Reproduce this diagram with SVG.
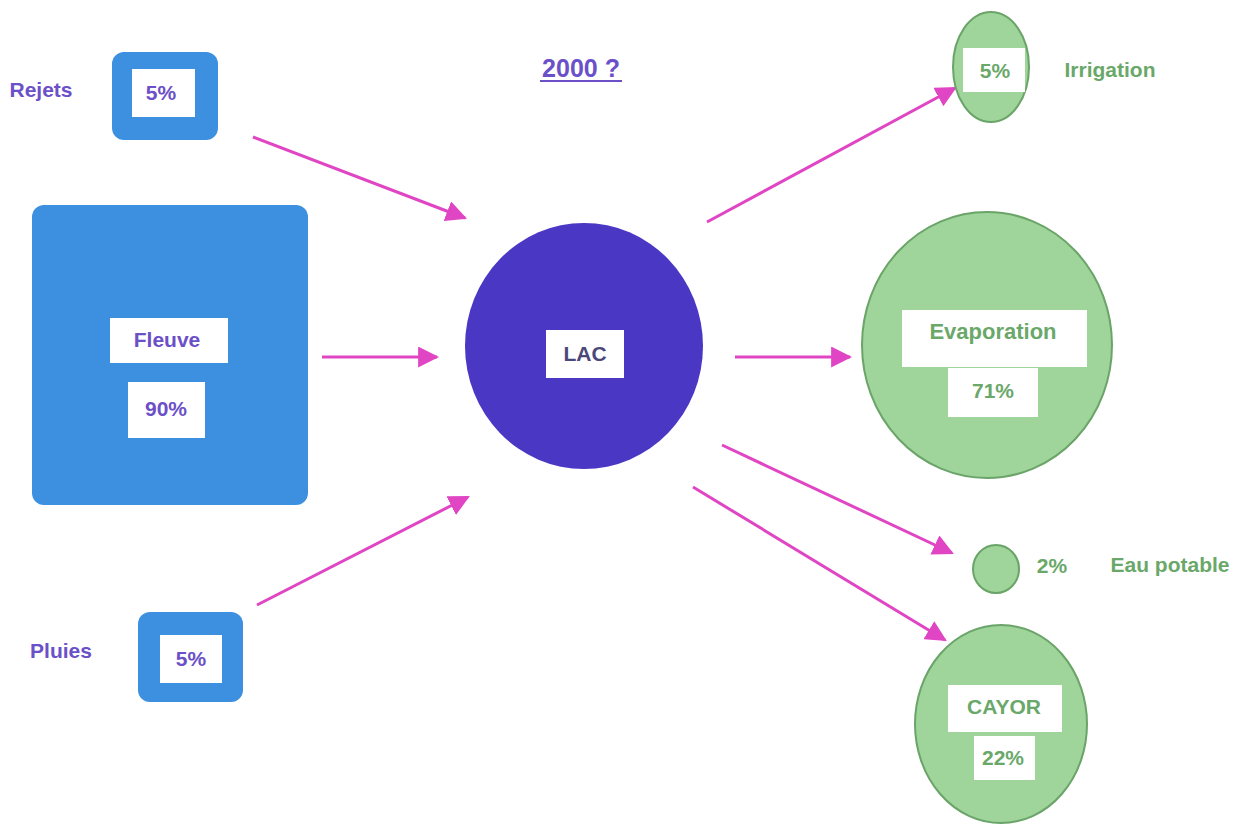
<svg xmlns="http://www.w3.org/2000/svg" width="1245" height="824" viewBox="0 0 1245 824">
  <defs>
    <marker id="arrowBig" viewBox="0 0 10 10" refX="9" refY="5" markerWidth="7" markerHeight="7" orient="auto">
      <path d="M0,0 L10,5 L0,10 Z" fill="#e045c4"/>
    </marker>
    <style>
      text { font-family: "Liberation Sans", Arial, sans-serif; font-weight: bold; font-size: 21px; }
      text.big { font-size: 25px; }
      text.mid { font-size: 22px; }
      .src { fill: #3d8fe0; }
      .lab { fill: #ffffff; }
      .purple { fill: #6b50c8; }
      .green { fill: #6aa86a; }
      .dark { fill: #4a4878; }
      .out { fill: #9fd49a; stroke: #6aa468; stroke-width: 2; }
      .conn line { stroke: #e045c4; stroke-width: 3; marker-end: url(#arrowBig); }
    </style>
  </defs>

  <rect width="1245" height="824" fill="#ffffff"/>

  <!-- title -->
  <g id="title">
    <text x="581" y="77" text-anchor="middle" class="purple big">2000 ?</text>
    <line x1="540" y1="81" x2="622" y2="81" stroke="#6b50c8" stroke-width="2"/>
  </g>

  <!-- connectors -->
  <g id="connectors" class="conn">
    <line x1="253" y1="137" x2="465" y2="218"/>
    <line x1="322" y1="357" x2="437" y2="357"/>
    <line x1="257" y1="605" x2="468" y2="497"/>
    <line x1="707" y1="222" x2="955" y2="88"/>
    <line x1="735" y1="357" x2="850" y2="357"/>
    <line x1="722" y1="445" x2="952" y2="553"/>
    <line x1="693" y1="487" x2="945" y2="640"/>
  </g>

  <!-- sources -->
  <g id="rejets">
    <text x="41" y="97" text-anchor="middle" class="purple">Rejets</text>
    <rect x="112" y="52" width="106" height="88" rx="12" class="src"/>
    <rect x="132" y="69" width="63" height="48" class="lab"/>
    <text x="161" y="100" text-anchor="middle" class="purple">5%</text>
  </g>

  <g id="fleuve">
    <rect x="32" y="205" width="276" height="300" rx="12" class="src"/>
    <rect x="110" y="318" width="118" height="45" class="lab"/>
    <text x="167" y="347" text-anchor="middle" class="purple">Fleuve</text>
    <rect x="128" y="382" width="77" height="56" class="lab"/>
    <text x="166" y="416" text-anchor="middle" class="purple">90%</text>
  </g>

  <g id="pluies">
    <text x="61" y="658" text-anchor="middle" class="purple">Pluies</text>
    <rect x="138" y="612" width="105" height="90" rx="12" class="src"/>
    <rect x="160" y="635" width="62" height="48" class="lab"/>
    <text x="191" y="666" text-anchor="middle" class="purple">5%</text>
  </g>

  <!-- lake -->
  <g id="lac">
    <ellipse cx="584" cy="346" rx="119" ry="123" fill="#4a37c4"/>
    <rect x="546" y="330" width="78" height="48" class="lab"/>
    <text x="585" y="361" text-anchor="middle" class="dark">LAC</text>
  </g>

  <!-- outputs -->
  <g id="irrigation">
    <ellipse cx="991" cy="67" rx="38" ry="55" class="out"/>
    <rect x="963" y="48" width="62" height="44" class="lab"/>
    <text x="995" y="78" text-anchor="middle" class="green">5%</text>
    <text x="1110" y="77" text-anchor="middle" class="green">Irrigation</text>
  </g>

  <g id="evaporation">
    <ellipse cx="987" cy="345" rx="125" ry="133" class="out"/>
    <rect x="902" y="310" width="185" height="57" class="lab"/>
    <text x="993" y="339" text-anchor="middle" class="green mid">Evaporation</text>
    <rect x="948" y="368" width="90" height="49" class="lab"/>
    <text x="993" y="398" text-anchor="middle" class="green">71%</text>
  </g>

  <g id="eau-potable">
    <ellipse cx="996" cy="569" rx="23" ry="24" class="out"/>
    <text x="1052" y="573" text-anchor="middle" class="green">2%</text>
    <text x="1170" y="572" text-anchor="middle" class="green">Eau potable</text>
  </g>

  <g id="cayor">
    <ellipse cx="1001" cy="724" rx="86" ry="99" class="out"/>
    <rect x="948" y="685" width="114" height="47" class="lab"/>
    <text x="1004" y="714" text-anchor="middle" class="green">CAYOR</text>
    <rect x="974" y="736" width="61" height="44" class="lab"/>
    <text x="1003" y="765" text-anchor="middle" class="green">22%</text>
  </g>
</svg>
